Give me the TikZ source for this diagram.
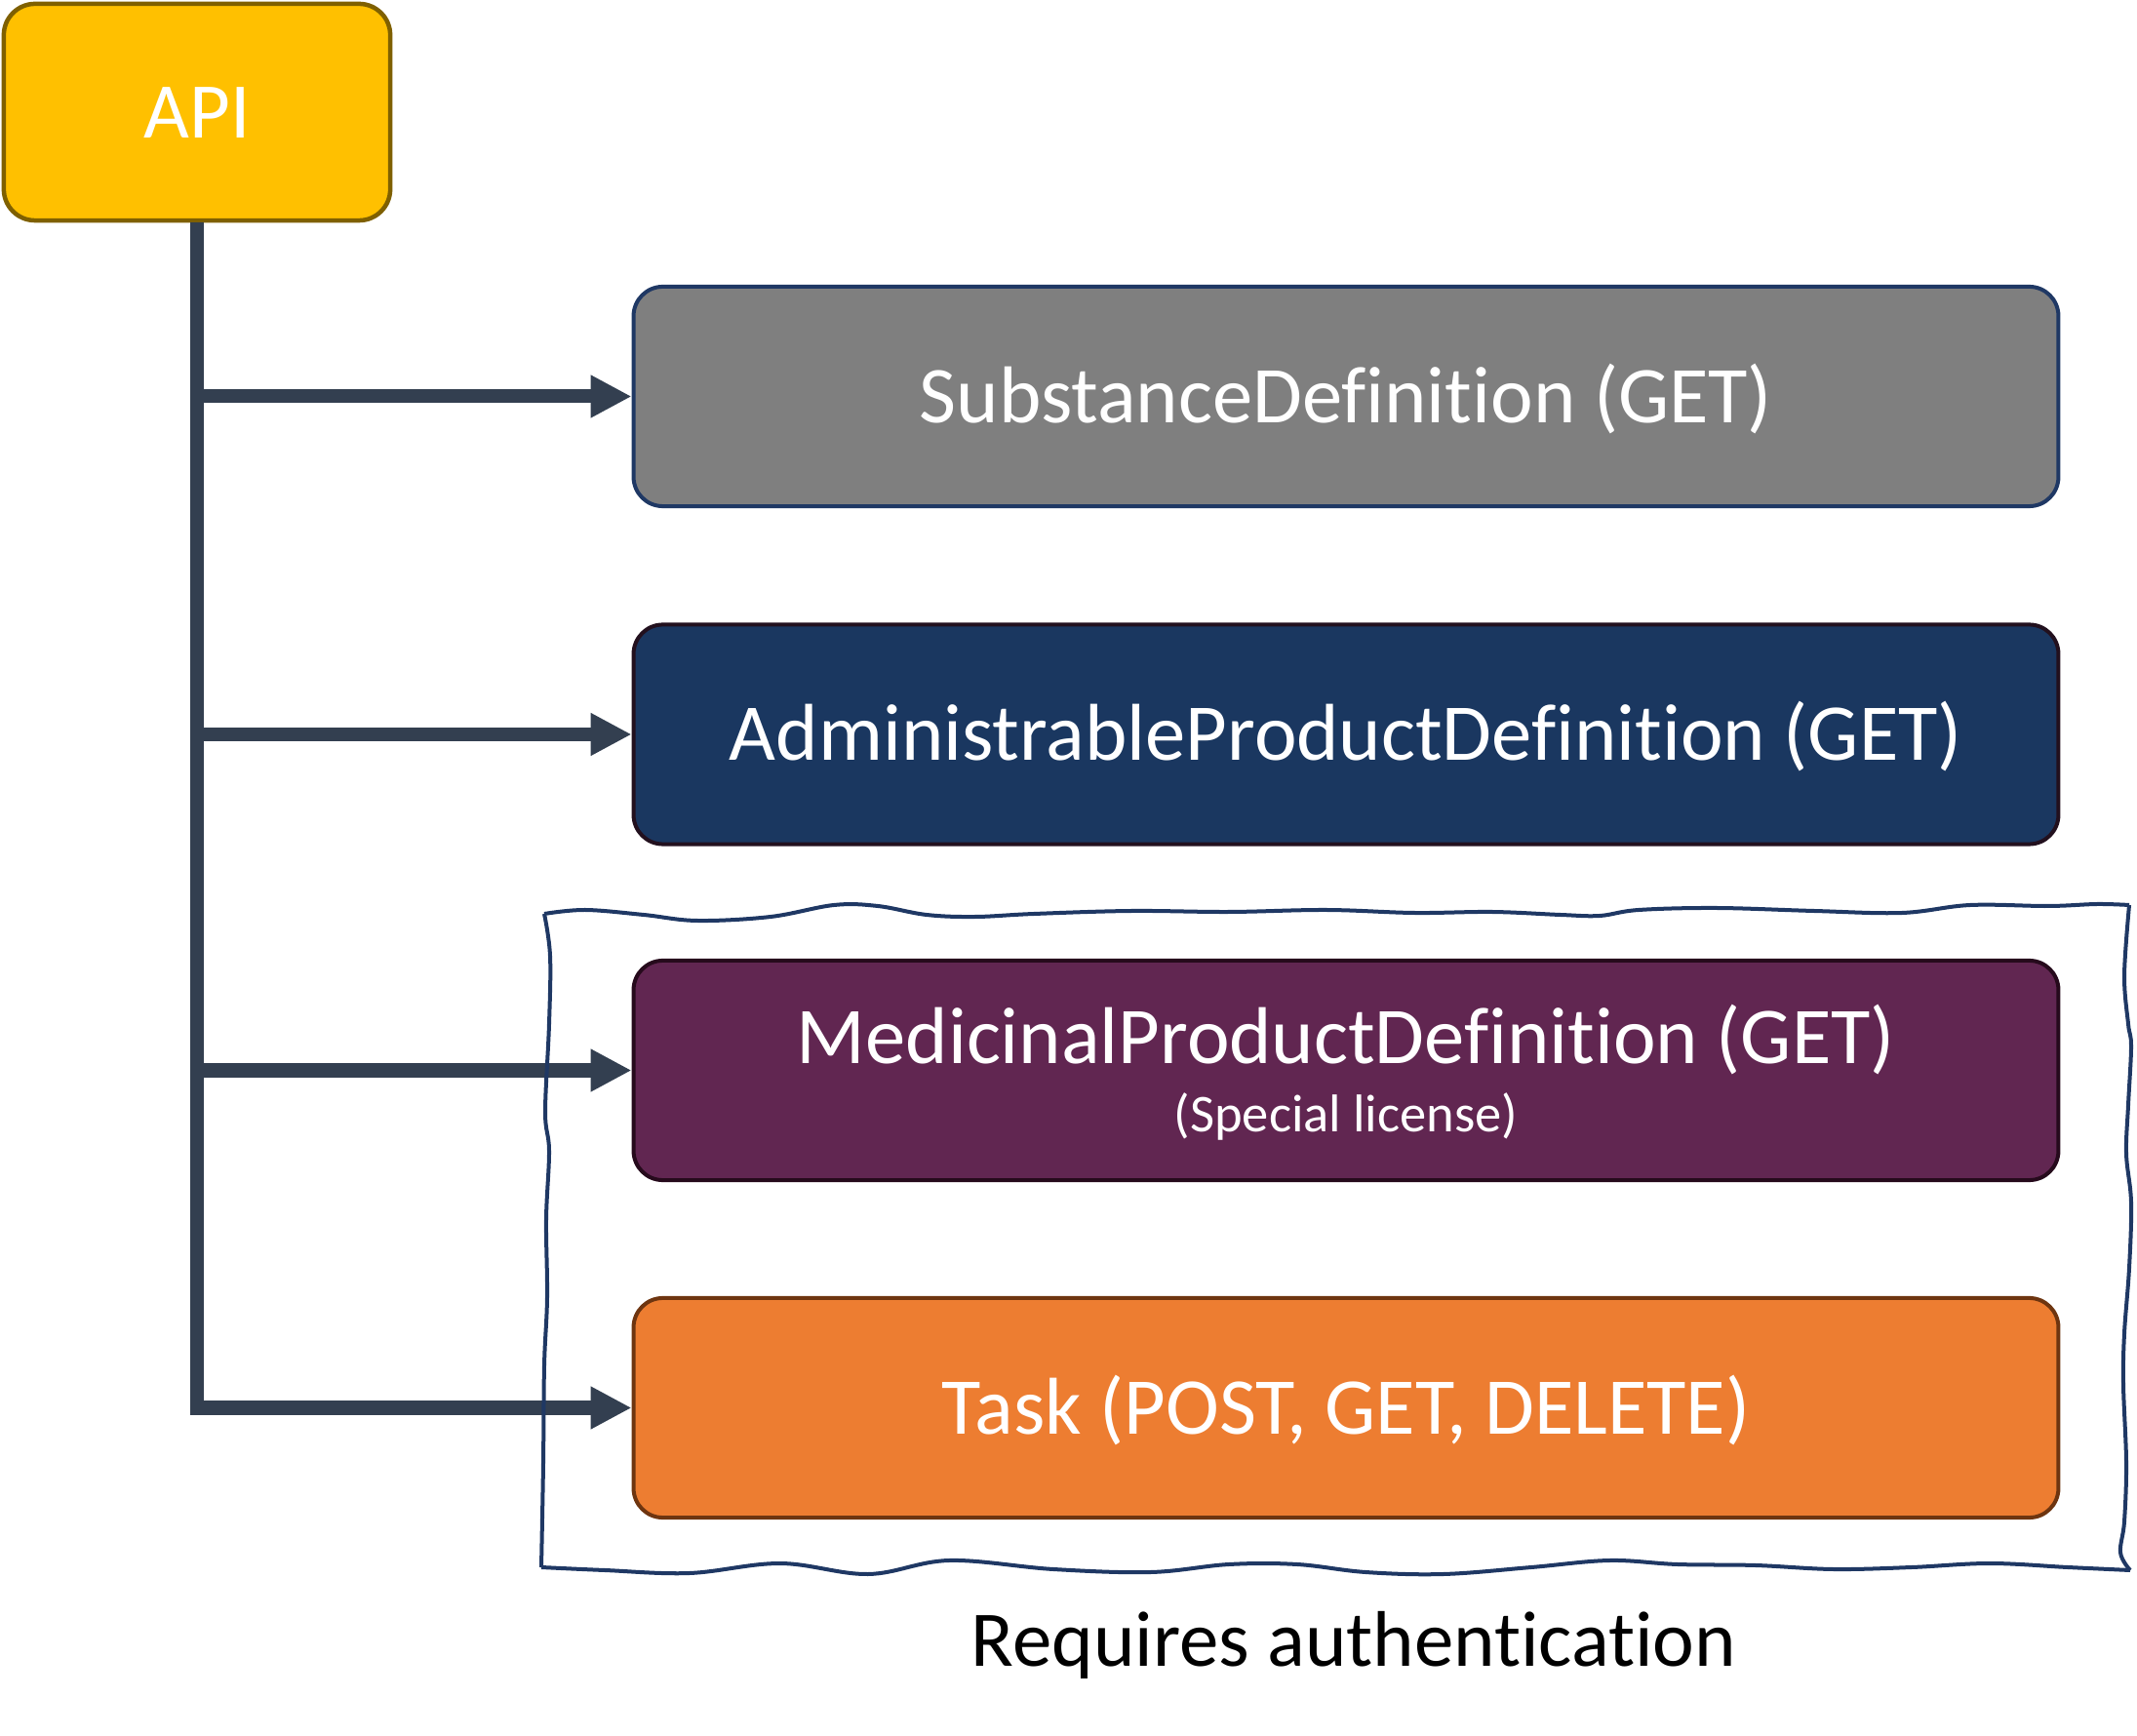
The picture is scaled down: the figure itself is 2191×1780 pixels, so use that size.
\documentclass[tikz,border=0pt]{standalone}
\usepackage{fontspec}
\setmainfont{Carlito}[Ligatures={NoCommon}]
\usetikzlibrary{arrows.meta}
\definecolor{apifill}{HTML}{FFC000}
\definecolor{apidraw}{HTML}{7F6000}
\definecolor{grayfill}{HTML}{7F7F7F}
\definecolor{navy}{HTML}{1F3864}
\definecolor{bluefill}{HTML}{1A3760}
\definecolor{bluedraw}{HTML}{22101E}
\definecolor{purpfill}{HTML}{612651}
\definecolor{purpdraw}{HTML}{260A1C}
\definecolor{orgfill}{HTML}{ED7D31}
\definecolor{orgdraw}{HTML}{6E3510}
\definecolor{conn}{HTML}{333F50}
\begin{document}
\begin{tikzpicture}[x=0.01cm,y=-0.01cm,
  box/.style={rounded corners=0.3cm, line width=0.04cm, minimum width=14.6cm, minimum height=2.25cm,
    text=white, font=\fontsize{23.5}{28}\selectfont, text height=15.1pt, text depth=0pt, inner sep=0pt},
  apibox/.style={rounded corners=0.32cm, line width=0.045cm, minimum width=3.96cm, minimum height=2.22cm,
    fill=apifill, draw=apidraw, text=white, font=\fontsize{23}{27}\selectfont, text height=14.8pt, text depth=0pt, inner sep=0pt},
  arr/.style={draw=conn, line width=0.14cm, -{Triangle[length=0.42cm, width=0.41cm]}},
  wavy/.style={draw=navy, line width=0.04cm},
]
\useasboundingbox (0,0) rectangle (2191,1780);

\node[apibox] (api) at (202,115) {API};

\node[box, fill=grayfill, draw=navy] (sd) at (1380,406.5) {SubstanceDefinition (GET)};
\node[box, fill=bluefill, draw=bluedraw] (apd) at (1380,753) {AdministrableProductDefinition (GET)};
\node[box, fill=purpfill, draw=purpdraw] (mpd) at (1380,1097.5) {};
\node[anchor=base, text=white, font=\fontsize{23.5}{28}\selectfont, inner sep=0pt] (mpdt) at (1380,1091) {MedicinalProductDefinition (GET)};
\node[anchor=base, text=white, font=\fontsize{15.5}{18}\selectfont, inner sep=0pt] (mpds) at (1380,1160) {(Special license)};
\node[box, fill=orgfill, draw=orgdraw] (task) at (1380,1443.5) {Task (POST, GET, DELETE)};

% connectors
\coordinate (j1) at (api.south |- sd.west);
\coordinate (j2) at (api.south |- apd.west);
\coordinate (j3) at (api.south |- mpd.west);
\draw[arr, line join=miter] (api.south) |- (task.west);
\draw[arr] (j1) -- (sd.west);
\draw[arr] (j2) -- (apd.west);
\draw[arr] (j3) -- (mpd.west);

% wavy frame
\draw[wavy] plot[smooth, tension=0.6] coordinates {(558,937) (600,933) (660,938) (715,944) (790,940) (855,928) (900,929) (950,938) (1000,940) (1060,937) (1160,934) (1260,935) (1360,933) (1450,936) (1530,935) (1600,938) (1640,939) (1680,933) (1760,931) (1860,934) (1950,936) (2020,928) (2100,929) (2150,927) (2183,928)};
\draw[wavy] plot[smooth, tension=0.6] coordinates {(2183,928) (2178,1000) (2182,1050) (2185,1073) (2182,1133) (2180,1183) (2185,1233) (2183,1300) (2178,1367) (2177,1420) (2180,1500) (2178,1560) (2174,1592) (2184,1610)};
\draw[wavy] plot[smooth, tension=0.6] coordinates {(2184,1610) (2120,1607) (2040,1603) (1960,1607) (1880,1609) (1800,1605) (1720,1604) (1650,1600) (1570,1607) (1480,1614) (1400,1612) (1330,1604) (1260,1604) (1180,1612) (1080,1609) (973,1600) (890,1614) (800,1603) (707,1613) (620,1610) (555,1607)};
\draw[wavy] plot[smooth, tension=0.6] coordinates {(555,1607) (557,1500) (558,1400) (561,1330) (560,1250) (563,1180) (559,1140) (563,1050) (564,980) (558,937)};

\node[anchor=base, text=black, font=\fontsize{23}{27}\selectfont, inner sep=0pt] (auth) at (1388,1708) {Requires authentication};
\end{tikzpicture}
\end{document}
